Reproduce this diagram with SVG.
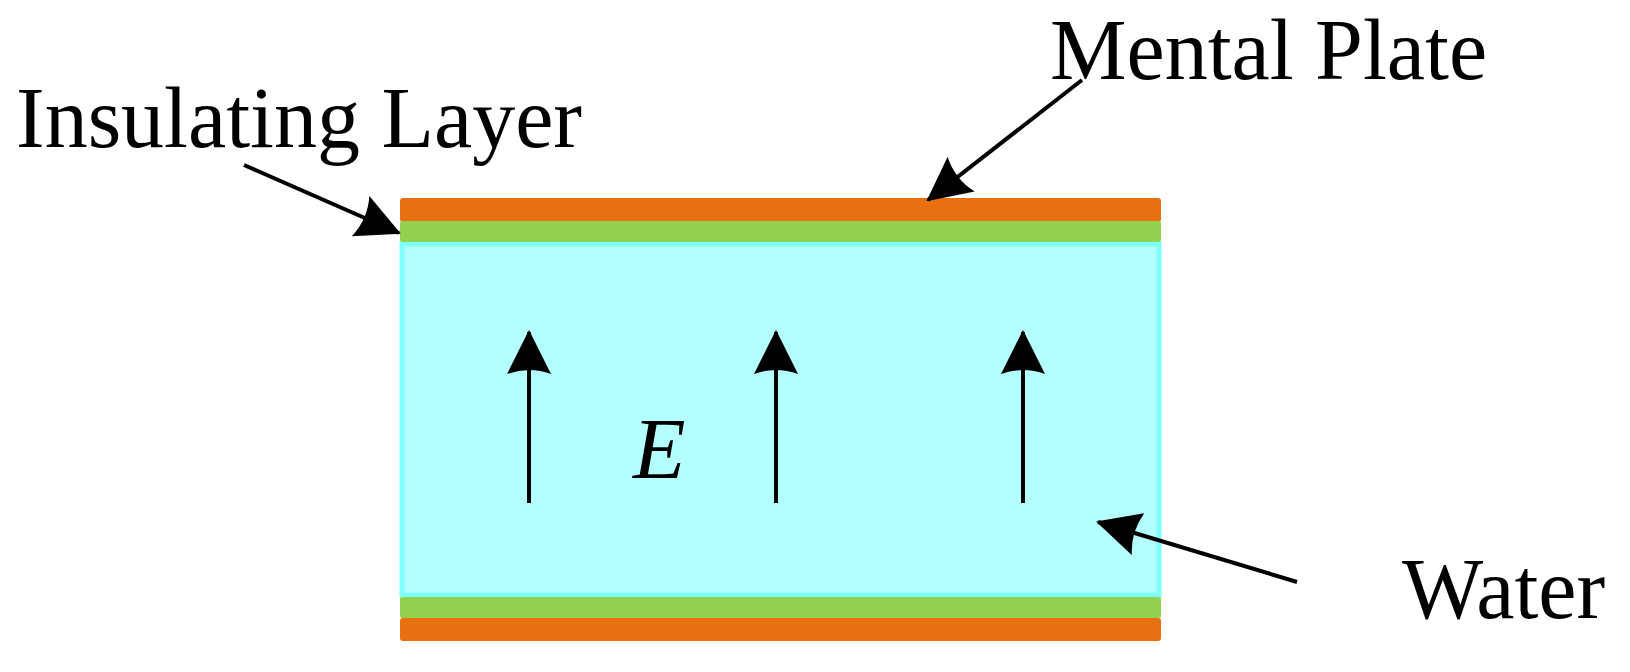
<svg xmlns="http://www.w3.org/2000/svg" width="1630" height="672" viewBox="0 0 1630 672">
<style>
.lbl{font-family:"Liberation Serif","Times New Roman",serif;font-size:86px;fill:#000}
.con{stroke:#000;stroke-width:4;fill:none}
</style>
<defs>
<marker id="ah" markerUnits="userSpaceOnUse" viewBox="0 0 44 44" refX="42" refY="22" markerWidth="44" markerHeight="44" orient="auto">
<path d="M0,0 L44,22 L0,44 Q8,22 0,0 Z" fill="#000"/>
</marker>
</defs>
<rect width="1630" height="672" fill="#fff"/>
<g id="water"><rect x="402" y="244" width="757" height="351" fill="#b4ffff" stroke="#80ffff" stroke-width="5"/></g>
<g id="top-plate"><rect x="400" y="198" width="761" height="24" rx="3" fill="#e87010"/></g>
<g id="top-insulator"><rect x="400" y="221" width="761" height="21" rx="2" fill="#92d050"/></g>
<g id="bottom-insulator"><rect x="400" y="597" width="761" height="21" rx="2" fill="#92d050"/></g>
<g id="bottom-plate"><rect x="400" y="618" width="761" height="23" rx="3" fill="#e87010"/></g>
<g id="labels">
<text class="lbl" x="16" y="147">Insulating Layer</text>
<text class="lbl" x="1050" y="79">Mental Plate</text>
<text class="lbl" x="1402" y="618">Water</text>
<text class="lbl" x="633" y="478" font-style="italic">E</text>
</g>
<g id="connectors">
<line class="con" x1="529" y1="503" x2="529" y2="332" marker-end="url(#ah)"/>
<line class="con" x1="776" y1="503" x2="776" y2="332" marker-end="url(#ah)"/>
<line class="con" x1="1023" y1="503" x2="1023" y2="332" marker-end="url(#ah)"/>
<line class="con" x1="244" y1="165" x2="399" y2="233" marker-end="url(#ah)"/>
<line class="con" x1="1082" y1="80" x2="928" y2="200" marker-end="url(#ah)"/>
<line class="con" x1="1297" y1="582" x2="1098" y2="522" marker-end="url(#ah)"/>
</g>
</svg>
